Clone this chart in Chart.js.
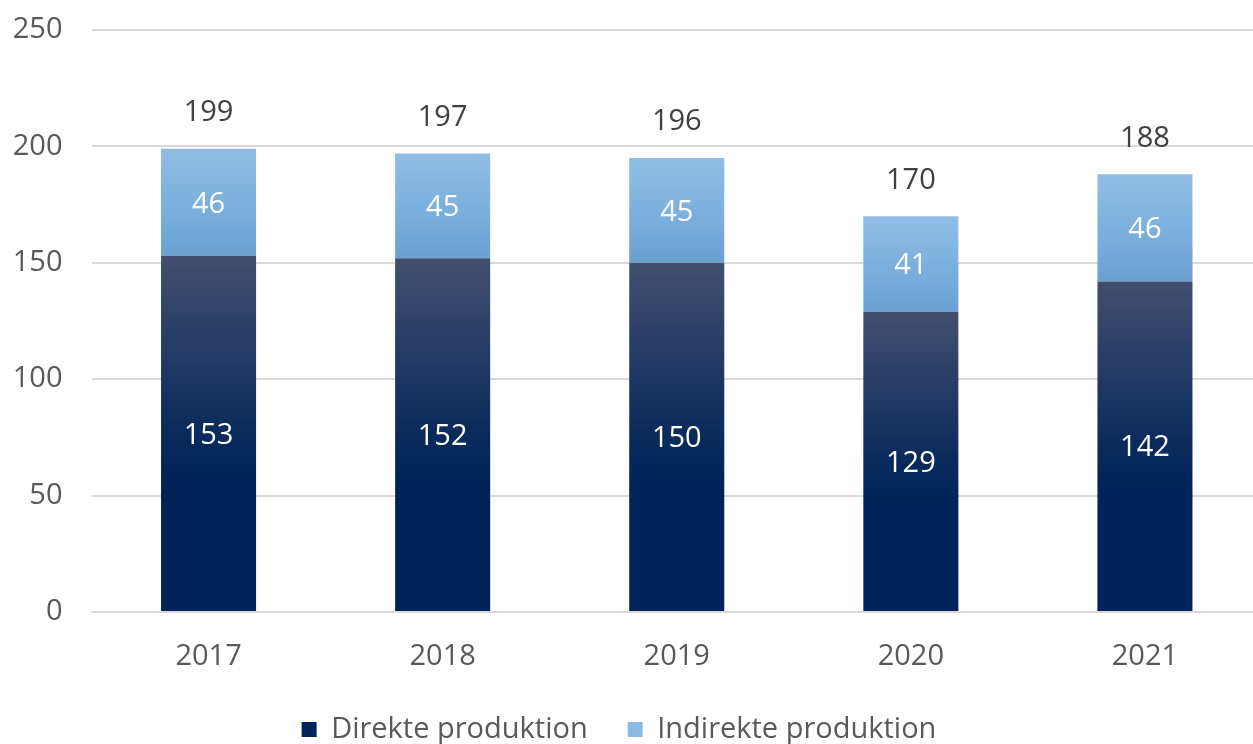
<!DOCTYPE html>
<html>
<head>
<meta charset="utf-8">
<script src="https://cdn.jsdelivr.net/npm/chart.js@4.4.1/dist/chart.umd.min.js"></script>
<style>
  html, body { margin: 0; padding: 0; background: #fff; overflow: hidden; }
  #wrap { position: absolute; left: 0; top: 0; width: 1262px; height: 752px; }
</style>
</head>
<body>
<div id="wrap"><canvas id="c"></canvas></div>
<script>
const categories = ['2017', '2018', '2019', '2020', '2021'];
const direkte = [153, 152, 150, 129, 142];
const indirekte = [46, 45, 45, 41, 46];
const totals = [199, 197, 196, 170, 188];
const seriesNames = ['Direkte produktion', 'Indirekte produktion'];
const yTicks = [0, 50, 100, 150, 200, 250];

const FONT = '"Open Sans", "Noto Sans", sans-serif';
const TXT = '#595959';
const FS = 29;

function darkFill(ctx) {
  const chart = ctx.chart;
  if (!chart.chartArea || ctx.type !== 'data') return '#002459';
  const y = chart.scales.y;
  const base = y.getPixelForValue(0);
  const top = y.getPixelForValue(direkte[ctx.dataIndex]);
  const g = chart.ctx.createLinearGradient(0, top, 0, base);
  g.addColorStop(0, '#424f6f');
  g.addColorStop(0.5, '#0a2a5c');
  g.addColorStop(0.62, '#002459');
  g.addColorStop(1, '#00245a');
  return g;
}
function lightFill(ctx) {
  const chart = ctx.chart;
  if (!chart.chartArea || ctx.type !== 'data') return '#8db9e2';
  const y = chart.scales.y;
  const base = y.getPixelForValue(direkte[ctx.dataIndex]);
  const top = y.getPixelForValue(direkte[ctx.dataIndex] + indirekte[ctx.dataIndex]);
  const g = chart.ctx.createLinearGradient(0, top, 0, base);
  g.addColorStop(0, '#91bde5');
  g.addColorStop(0.5, '#7cb1df');
  g.addColorStop(1, '#6aa1d2');
  return g;
}

const labelPlugin = {
  id: 'valueLabels',
  afterLayout(chart) {
    const lg = chart.legend;
    if (lg) { lg.left -= 12; lg.right -= 12; lg.top += 2; lg.bottom += 2; }
  },
  afterDatasetsDraw(chart) {
    const c = chart.ctx;
    c.save();
    c.font = FS + 'px ' + FONT;
    c.textAlign = 'center';
    c.textBaseline = 'middle';
    chart.data.datasets.forEach((ds, di) => {
      const meta = chart.getDatasetMeta(di);
      meta.data.forEach((el, i) => {
        c.fillStyle = '#ffffff';
        c.fillText(String(ds.data[i]), el.x, (el.y + el.base) / 2 + 2);
      });
    });
    const topMeta = chart.getDatasetMeta(chart.data.datasets.length - 1);
    topMeta.data.forEach((el, i) => {
      c.fillStyle = '#404040';
      c.fillText(String(totals[i]), el.x, el.y - 36);
    });
    c.restore();
  }
};

new Chart(document.getElementById('c'), {
  type: 'bar',
  data: {
    labels: categories,
    datasets: [
      { label: seriesNames[0], data: direkte, backgroundColor: darkFill, legendColor: '#002459' },
      { label: seriesNames[1], data: indirekte, backgroundColor: lightFill, legendColor: '#8dbae3' }
    ]
  },
  options: {
    responsive: true,
    maintainAspectRatio: false,
    animation: false,
    devicePixelRatio: 1,
    datasets: { bar: { categoryPercentage: 1, barPercentage: 0.406, borderWidth: 0 } },
    layout: { padding: { top: 30, left: 0, right: 0, bottom: 0 } },
    plugins: {
      tooltip: { enabled: false },
      legend: {
        position: 'bottom',
        labels: {
          font: { family: FONT, size: FS },
          color: TXT,
          boxWidth: 15,
          boxHeight: 15,
          padding: 40,
          generateLabels(chart) {
            return chart.data.datasets.map((ds, i) => ({
              text: ds.label,
              fillStyle: ds.legendColor,
              strokeStyle: ds.legendColor,
              lineWidth: 0,
              hidden: false,
              datasetIndex: i,
              fontColor: TXT
            }));
          }
        }
      }
    },
    scales: {
      x: {
        stacked: true,
        grid: { display: false, drawTicks: false },
        border: { display: true, color: '#d9d9d9', width: 2 },
        ticks: { font: { family: FONT, size: FS }, color: TXT, padding: 27 },
        afterFit(s) { s.height = 61; s.paddingLeft = 0; s.paddingRight = 0; }
      },
      y: {
        stacked: true,
        min: 0,
        max: 250,
        afterBuildTicks(s) { s.ticks = yTicks.map(v => ({ value: v })); },
        grid: { color: '#d9d9d9', lineWidth: 2, drawTicks: false },
        border: { display: false },
        ticks: { font: { family: FONT, size: FS }, color: TXT, padding: 29 },
        afterFit(s) { s.width = 91.5; s.paddingTop = 0; s.paddingBottom = 0; }
      }
    }
  },
  plugins: [labelPlugin]
});
</script>
</body>
</html>
